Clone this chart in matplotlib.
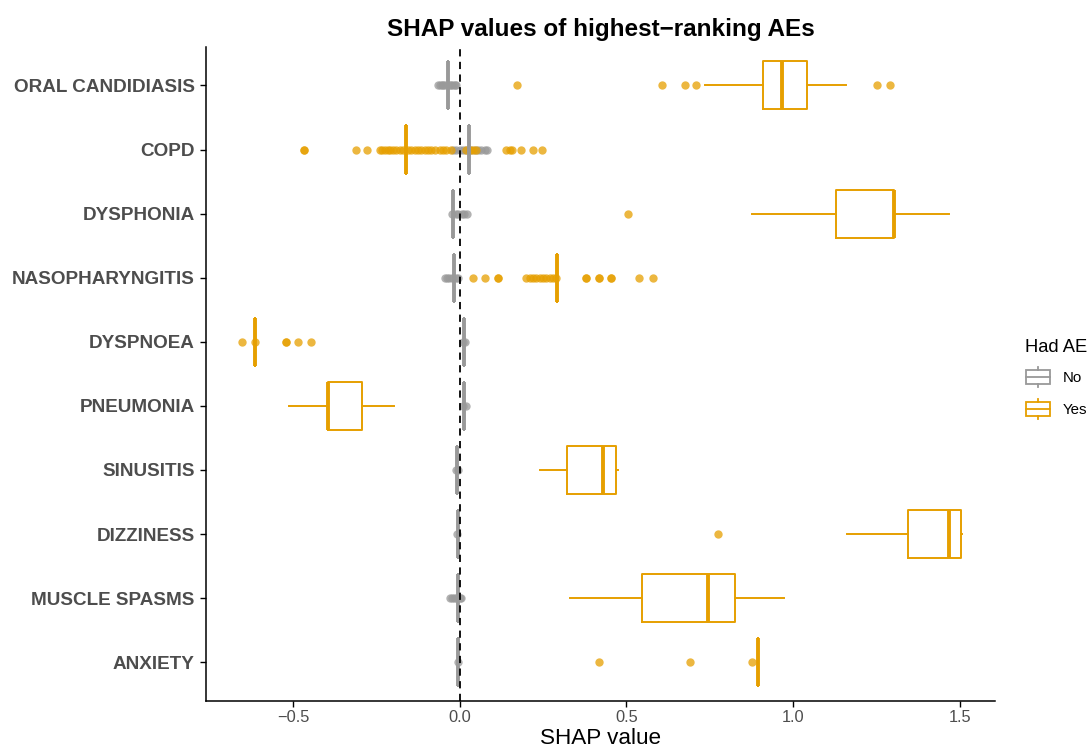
import numpy as np
import matplotlib
matplotlib.use("Agg")
from matplotlib import pyplot as plt
from matplotlib.legend_handler import HandlerBase
from matplotlib.lines import Line2D
from matplotlib.patches import Rectangle

plt.rcParams['font.family'] = ['Liberation Sans', 'DejaVu Sans']

categories = ["ORAL CANDIDIASIS", "COPD", "DYSPHONIA", "NASOPHARYNGITIS", "DYSPNOEA",
              "PNEUMONIA", "SINUSITIS", "DIZZINESS", "MUSCLE SPASMS", "ANXIETY"]

# Had AE = No : every box collapses onto its median
no_med = [-0.036, 0.028, -0.019, -0.017, 0.014, 0.014, -0.008, -0.006, -0.006, -0.004]
no_out = [
    [-0.064, -0.059, -0.054, -0.049, -0.044, -0.03, -0.025, -0.02, -0.015, -0.01],
    [-0.02, -0.01, 0.0, 0.01, 0.02, 0.035, 0.045, 0.055, 0.065, 0.075, 0.082],
    [-0.024, -0.012, -0.004, 0.006, 0.014, 0.022],
    [-0.045, -0.038, -0.031, -0.024, -0.01, -0.004],
    [0.011, 0.016],
    [0.01, 0.018],
    [-0.011, -0.005],
    [-0.007],
    [-0.03, -0.024, -0.018, -0.012, 0.0, 0.005],
    [-0.006],
]

# Had AE = Yes
yes_lo = [0.734, -0.162, 0.876, 0.292, -0.613, -0.511, 0.240, 1.162, 0.332, 0.895]
yes_q1 = [0.910, -0.162, 1.128, 0.292, -0.613, -0.394, 0.322, 1.344, 0.547, 0.895]
yes_med = [0.965, -0.162, 1.302, 0.292, -0.613, -0.394, 0.430, 1.466, 0.745, 0.895]
yes_q3 = [1.042, -0.162, 1.302, 0.292, -0.613, -0.294, 0.469, 1.504, 0.825, 0.895]
yes_hi = [1.159, -0.162, 1.468, 0.292, -0.613, -0.196, 0.474, 1.505, 0.972, 0.895]
yes_out = [
    [0.172, 0.607, 0.674, 0.709, 1.251, 1.291],
    [-0.466, -0.466, -0.311, -0.279, -0.24, -0.232, -0.224, -0.216, -0.208, -0.2, -0.19,
     -0.18, -0.17, -0.155, -0.145, -0.135, -0.125, -0.115, -0.105, -0.095, -0.085,
     -0.075, -0.06, -0.05, -0.04, -0.025, 0.02, 0.03, 0.04, 0.05, 0.138, 0.15, 0.156,
     0.184, 0.219, 0.248],
    [0.504],
    [0.039, 0.075, 0.116, 0.116, 0.2, 0.21, 0.22, 0.23, 0.24, 0.25, 0.26, 0.27, 0.28,
     0.29, 0.38, 0.38, 0.418, 0.418, 0.455, 0.455, 0.537, 0.58],
    [-0.654, -0.613, -0.521, -0.521, -0.486, -0.445],
    [],
    [],
    [0.773],
    [],
    [0.417, 0.689, 0.877],
]

GREY = "#999999"
ORANGE = "#E69F00"
TXT = "#4D4D4D"

pos = np.arange(len(categories), 0, -1)


def make_stats(lo, q1, med, q3, hi, out):
    return [dict(whislo=a, q1=b, med=c, q3=d, whishi=e, fliers=np.array(f))
            for a, b, c, d, e, f in zip(lo, q1, med, q3, hi, out)]


def draw_boxes(ax, stats, color):
    ax.bxp(stats, positions=pos, widths=0.75, orientation='horizontal',
           showcaps=False, patch_artist=False,
           boxprops=dict(color=color, lw=1.4),
           whiskerprops=dict(color=color, lw=1.4),
           medianprops=dict(color=color, lw=2.8, solid_capstyle='butt'),
           flierprops=dict(marker='o', markersize=6, markerfacecolor=color,
                           markeredgecolor='none', alpha=0.75))


class BoxKey(HandlerBase):
    def create_artists(self, legend, orig_handle, xdescent, ydescent, width, height,
                       fontsize, trans):
        c = orig_handle.get_color()
        x0, y0 = -xdescent, -ydescent
        cx = x0 + width / 2
        bw, bh = width * 0.95, height * 0.67
        rect = Rectangle((cx - bw / 2, y0 + (height - bh) / 2), bw, bh,
                         fill=False, edgecolor=c, lw=1.3, transform=trans)
        mid = Line2D([cx - bw / 2, cx + bw / 2], [y0 + height / 2] * 2, color=c, lw=1.3,
                     transform=trans)
        up = Line2D([cx, cx], [y0 + (height + bh) / 2, y0 + height], color=c, lw=1.3,
                    transform=trans)
        dn = Line2D([cx, cx], [y0, y0 + (height - bh) / 2], color=c, lw=1.3,
                    transform=trans)
        return [rect, mid, up, dn]


fig = plt.figure(figsize=(10.91, 7.49), dpi=100)
ax = fig.add_axes([0.1888, 0.0645, 0.7232, 0.8728])

draw_boxes(ax, make_stats(no_med, no_med, no_med, no_med, no_med, no_out), GREY)
draw_boxes(ax, make_stats(yes_lo, yes_q1, yes_med, yes_q3, yes_hi, yes_out), ORANGE)

ax.axvline(0, color='black', lw=1.3, ls=(0, (4, 3)), zorder=10)

ax.set_xlim(-0.761, 1.605)
ax.set_ylim(0.4, len(categories) + 0.6)
ax.set_xticks([-0.5, 0.0, 0.5, 1.0, 1.5])
ax.set_xticklabels(["\u22120.5", "0.0", "0.5", "1.0", "1.5"])
ax.set_yticks(pos)
ax.set_yticklabels(categories, fontweight='bold', fontsize=13.6, color=TXT)
ax.tick_params(axis='x', labelsize=11.8, labelcolor=TXT, length=4, width=1, pad=3)
ax.tick_params(axis='y', length=4, width=1, pad=4)
for s in ['top', 'right']:
    ax.spines[s].set_visible(False)
for s in ['left', 'bottom']:
    ax.spines[s].set_linewidth(1.1)

ax.set_xlabel("SHAP value", fontsize=16.2, labelpad=2)
ax.set_title("SHAP values of highest\u2212ranking AEs", fontsize=17.5, fontweight='bold', pad=8)

handles = [Line2D([], [], color=GREY), Line2D([], [], color=ORANGE)]
leg = fig.legend(handles, ["No", "Yes"], title="Had AE", loc='center left',
                 bbox_to_anchor=(0.9325, 0.494), frameon=False, fontsize=10.8,
                 title_fontsize=13.2, handler_map={Line2D: BoxKey()},
                 handlelength=1.75, handleheight=1.75, handletextpad=0.8,
                 labelspacing=0.75, borderpad=0)
leg._legend_box.align = "left"

fig.savefig("out.png", dpi=100)
